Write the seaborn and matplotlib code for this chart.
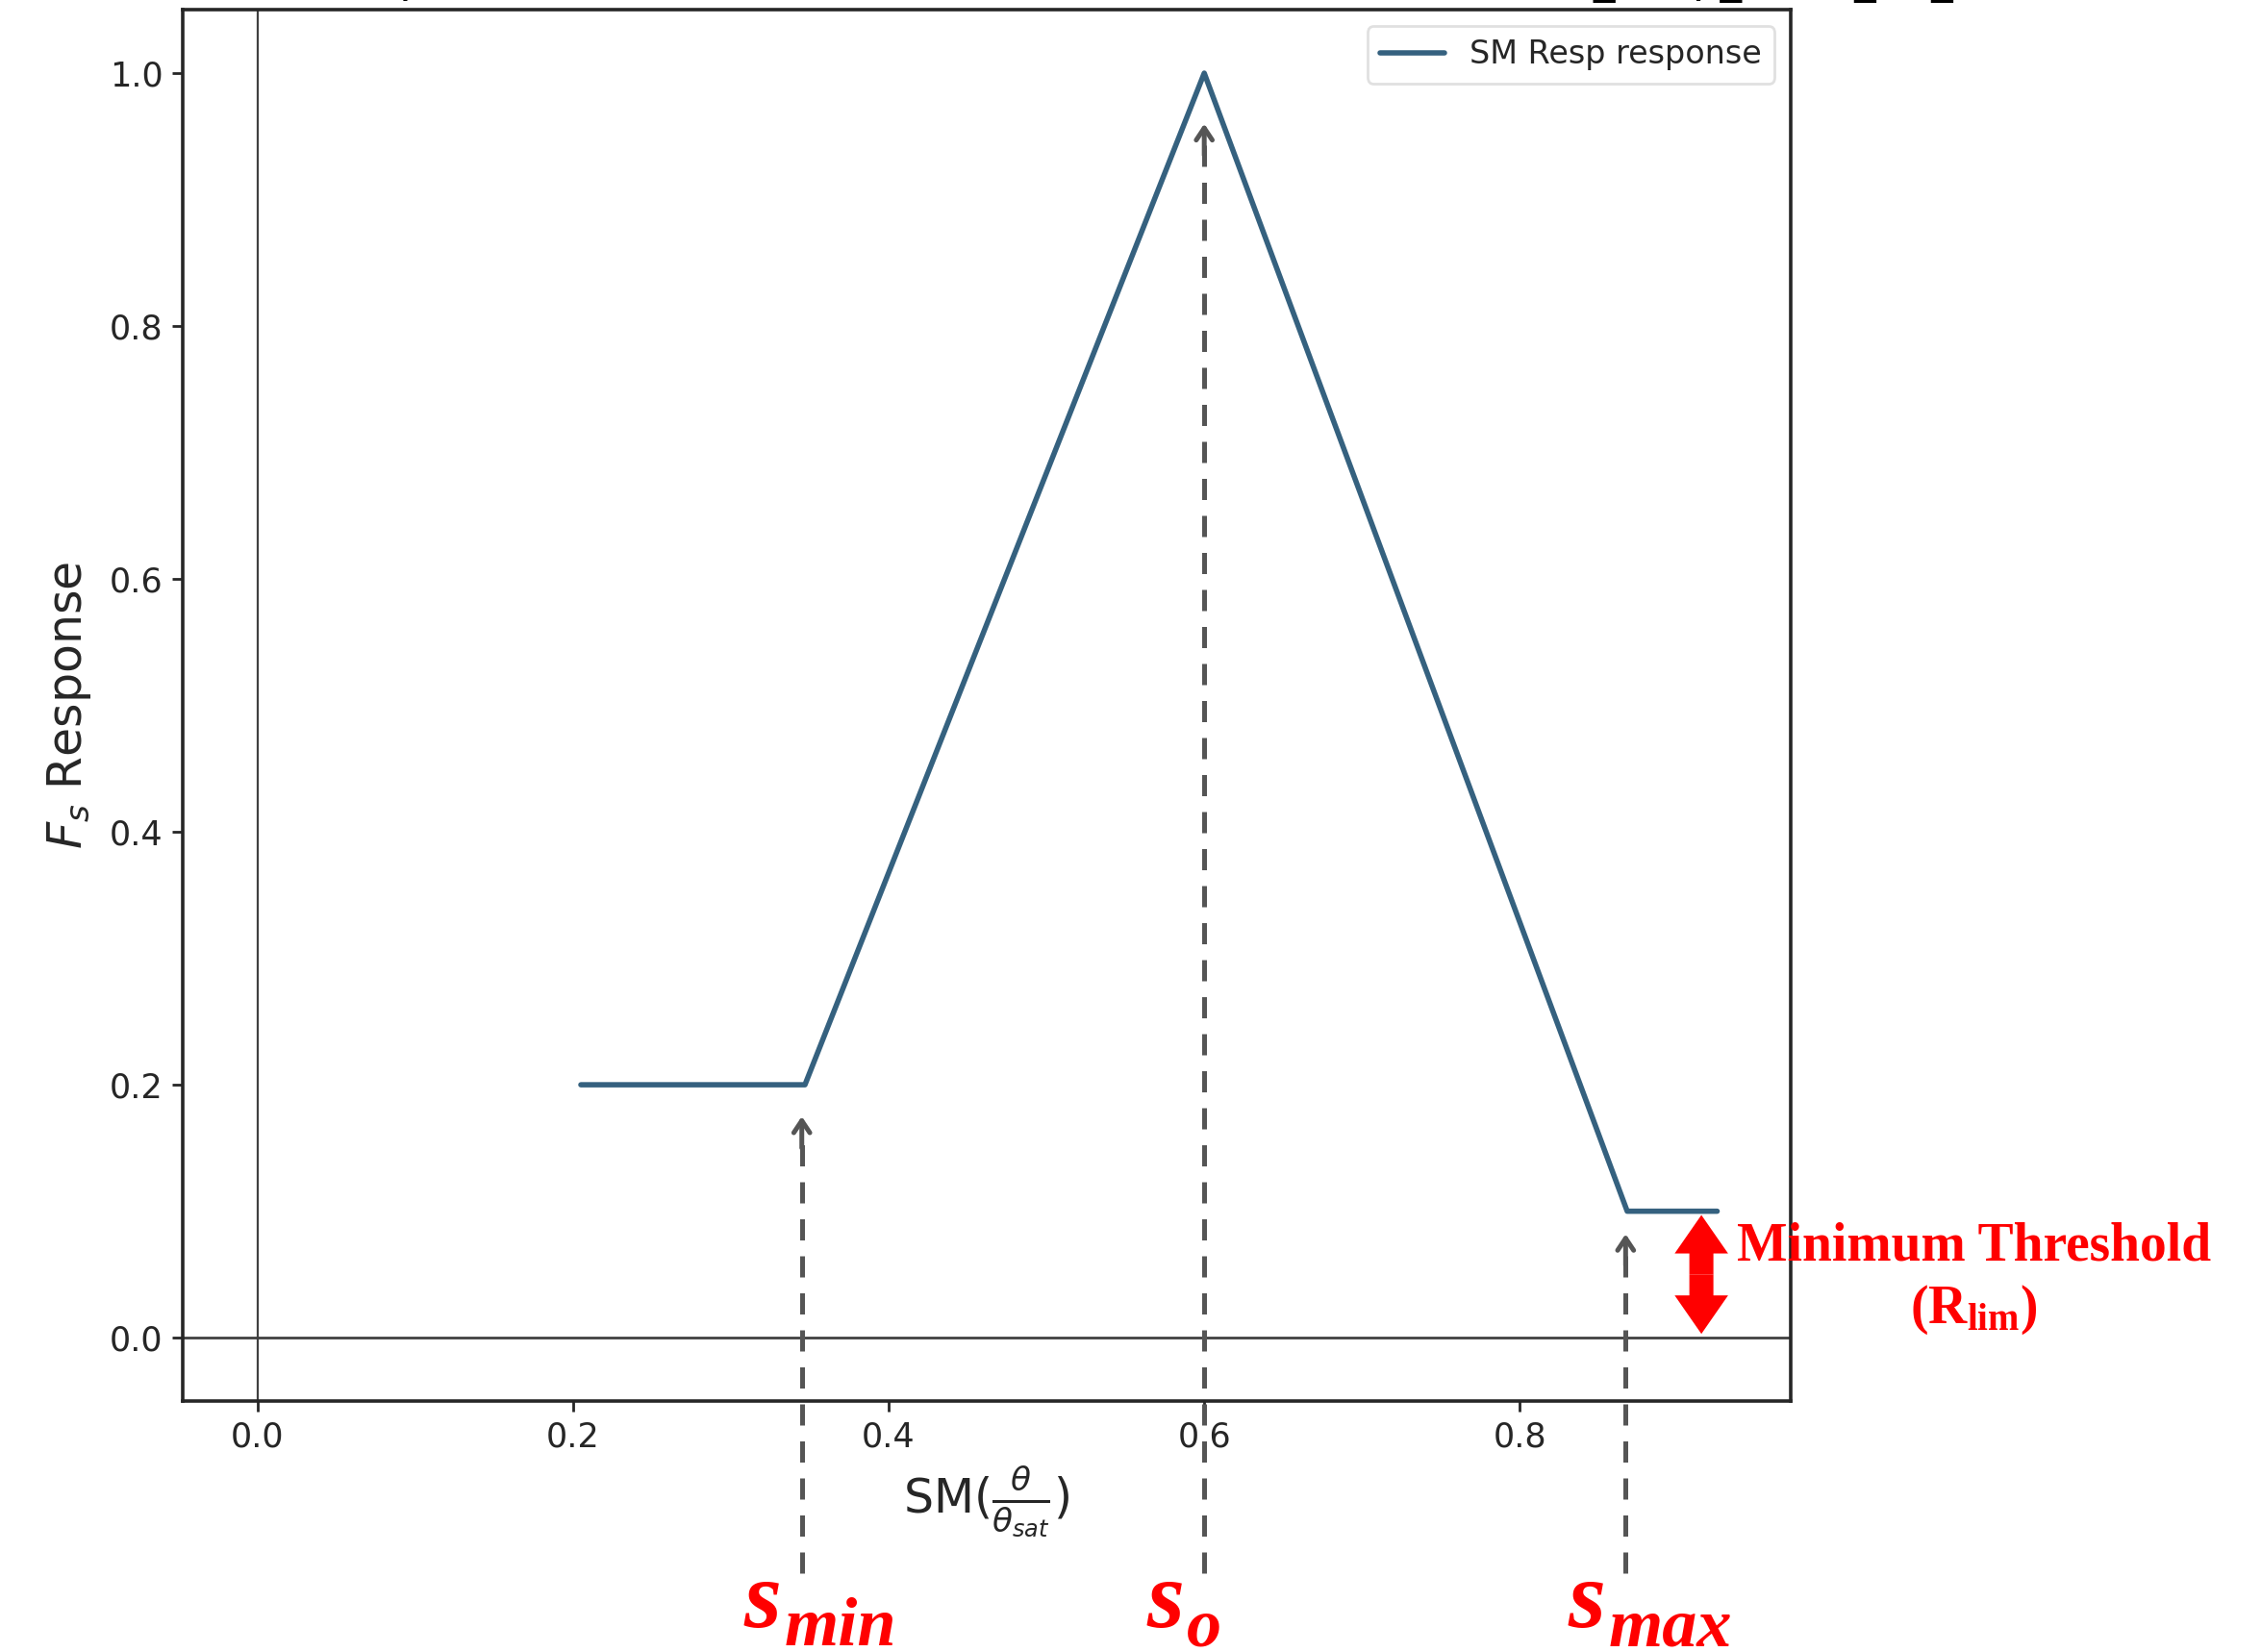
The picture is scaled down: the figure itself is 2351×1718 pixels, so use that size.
# -*- coding: utf-8 -*-
# soil moisture response curve (Fs vs SM) with s_min / s_o / s_max markers

import numpy as np
import pandas as pd
import matplotlib
matplotlib.use("Agg")
import matplotlib.pyplot as plt
import seaborn as sns

# --------------------------------
# 1. Data
# --------------------------------
sm_values = [0.205, 0.347, 0.60, 0.868, 0.925]   # SM (theta / theta_sat)
fs_values = [0.20, 0.20, 1.00, 0.10, 0.10]       # Fs response
series_name = "SM Resp response"

marker_x = [0.345, 0.60, 0.867]                  # s_min, s_o, s_max
marker_tip = [0.175, 0.96, 0.082]                # where the dashed arrows stop
marker_sub = ["min", "o", "max"]

rlim_x = 0.915
rlim_range = [0.003, 0.097]                      # span of the red double arrow

x_ticks = [0.0, 0.2, 0.4, 0.6, 0.8]
y_ticks = [0.0, 0.2, 0.4, 0.6, 0.8, 1.0]

df = pd.DataFrame({"SM": sm_values, "Fs": fs_values})

# --------------------------------
# 2. Style
# --------------------------------
sns.set_style("ticks")
plt.rcParams["font.family"] = ["DejaVu Sans"]
plt.rcParams["mathtext.fontset"] = "dejavusans"
plt.rcParams["mathtext.rm"] = "Liberation Serif:bold"
plt.rcParams["mathtext.it"] = "Liberation Serif:italic:bold"
plt.rcParams["mathtext.bf"] = "Liberation Serif:bold"

fig = plt.figure(figsize=(2351 / 200, 1718 / 200), dpi=200)
ax = fig.add_axes([0.081, 0.152, 0.711, 0.842])

# clipped title (only its descenders show at the top edge)
fig.text(0.013, 1 + 8 / 1718,
         "Soil Moisture Response Function (Fs) vs relative soil moisture for run SM_Resp_basic_01_a",
         ha="left", va="baseline", fontsize=16.2, color="black")

# --------------------------------
# 3. Main curve
# --------------------------------
line_col = "#35617f"
sns.lineplot(data=df, x="SM", y="Fs", ax=ax, color=line_col, lw=2.0,
             label=series_name, sort=False)

ax.axhline(0, color="0.25", lw=1.0, zorder=0)
ax.axvline(0, color="0.25", lw=0.8, zorder=0)

ax.set_xlim(-0.047, 0.9716)
ax.set_ylim(-0.05, 1.05)
ax.set_xticks(x_ticks)
ax.set_yticks(y_ticks)
ax.tick_params(labelsize=12.6, length=4, width=1.0, colors="0.15")
for sp in ax.spines.values():
    sp.set_linewidth(1.3)
    sp.set_color("0.15")

ax.set_xlabel(r"SM($\frac{\theta}{\theta_{sat}}$)", fontsize=17.6, labelpad=4)
ax.set_ylabel(r"$F_s$ Response", fontsize=17.6, labelpad=6)

leg = ax.legend(loc="upper right", fontsize=12, frameon=True, fancybox=True,
                edgecolor="0.85", handlelength=2.0, borderpad=0.4)

# --------------------------------
# 4. Dashed marker arrows + red labels
# --------------------------------
arrow_col = "#555555"
for x, tip, sub in zip(marker_x, marker_tip, marker_sub):
    ax.plot([x, x], [-0.186, tip - 0.01], color=arrow_col, lw=1.8,
            dashes=(4.4, 3.3), clip_on=False, zorder=3)
    ax.annotate("", xy=(x, tip), xytext=(x, tip - 0.025),
                arrowprops=dict(arrowstyle="->,head_length=0.45,head_width=0.3",
                                color=arrow_col, lw=1.8, shrinkA=0, shrinkB=0),
                annotation_clip=False, zorder=3)
    ax.annotate("s", xy=(x, -0.229), xytext=(-7.5, 0), textcoords="offset points",
                ha="right", va="baseline", fontsize=36, color="red",
                family="Liberation Serif", style="italic", weight="bold",
                annotation_clip=False)
    ax.annotate(sub, xy=(x, -0.229), xytext=(-6.5, -6.8), textcoords="offset points",
                ha="left", va="baseline", fontsize=26, color="red",
                family="Liberation Serif", style="italic", weight="bold",
                annotation_clip=False)

# red double arrow for the minimum threshold
mid = (rlim_range[0] + rlim_range[1]) / 2
for end in rlim_range:
    ax.annotate("", xy=(rlim_x, end), xytext=(rlim_x, mid),
                arrowprops=dict(arrowstyle="simple,head_length=0.72,head_width=1.0,tail_width=0.45",
                                color="red", lw=0, shrinkA=0, shrinkB=0,
                                mutation_scale=20),
                annotation_clip=False)

fig.text(0.873, 0.2456, "Minimum Threshold", ha="center", va="center",
         fontsize=20, color="red", family="Liberation Serif", weight="bold")
fig.text(0.873, 0.207, r"(R$_{\mathrm{lim}}$)", ha="center", va="center",
         fontsize=20, color="red", family="Liberation Serif", weight="bold",
         math_fontfamily="custom")

fig.savefig("out.png", dpi=200)
